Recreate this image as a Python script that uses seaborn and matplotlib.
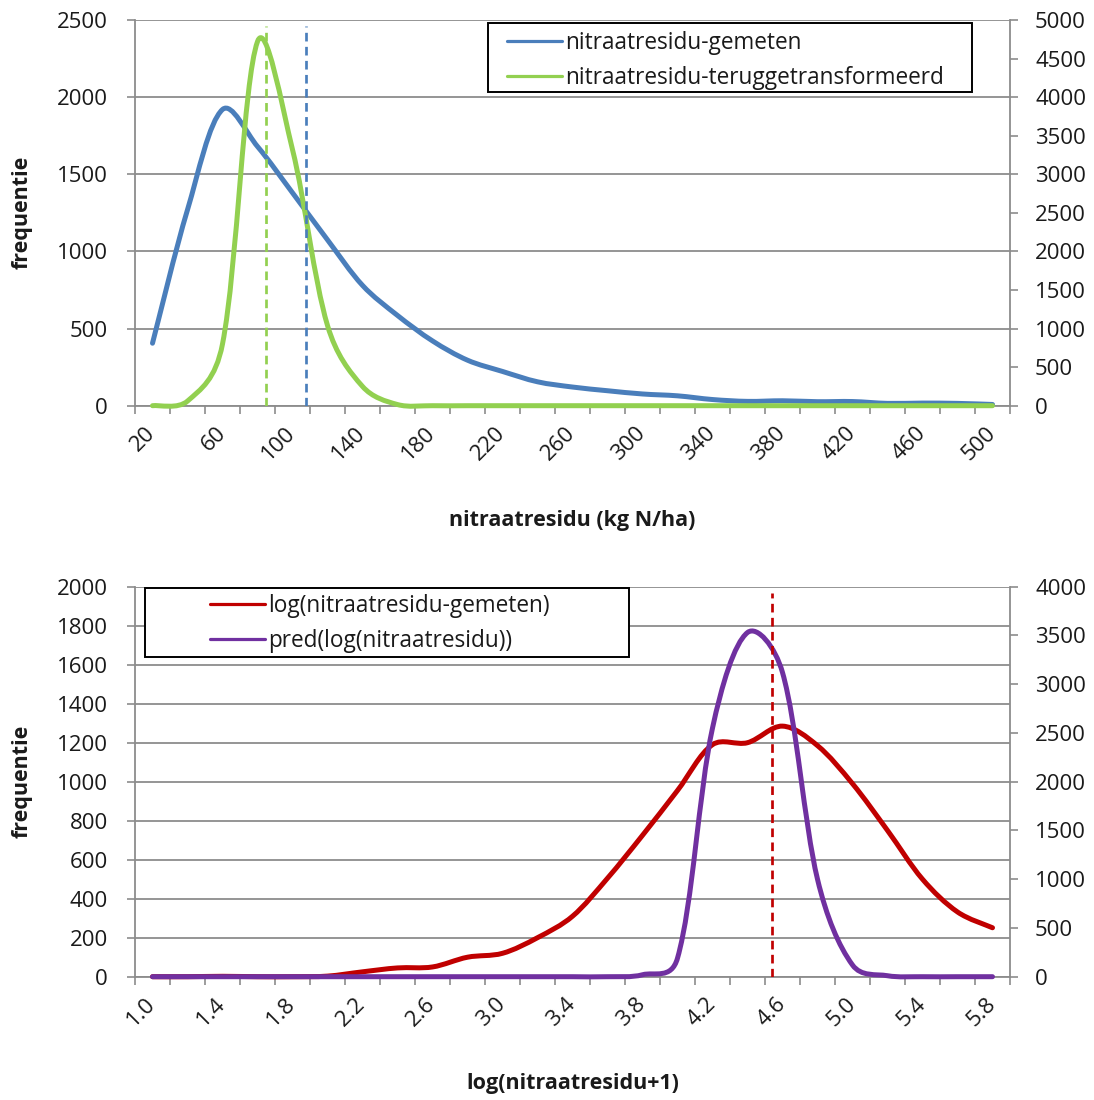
import numpy as np
import matplotlib
matplotlib.use("Agg")
import matplotlib.pyplot as plt
import seaborn as sns
from matplotlib.path import Path
from matplotlib.patches import PathPatch, Rectangle
from matplotlib.lines import Line2D
from matplotlib.ticker import FixedLocator, FixedFormatter

# ---------------- data ----------------
# upper panel: nitrate residue classes (kg N/ha)
residu_klassen = [20, 40, 60, 80, 100, 120, 140, 160, 180, 200, 220, 240, 260,
                  280, 300, 320, 340, 360, 380, 400, 420, 440, 460, 480, 500]
freq_gemeten = [405, 1270, 1920, 1680, 1380, 1075, 780, 585, 420, 295, 222, 155,
                121, 97, 76, 64, 40, 28, 32, 26, 27, 15, 17, 15, 8]
freq_teruggetransformeerd = [0, 60, 800, 4720, 3320, 1040, 250, 15, 0, 0, 0, 0, 0,
                             0, 0, 0, 0, 0, 0, 0, 0, 0, 0, 0, 0]
gem_teruggetransformeerd = 84.9
gem_gemeten = 107.7

# lower panel: log(nitrate residue + 1) classes
log_klassen = [1.0, 1.2, 1.4, 1.6, 1.8, 2.0, 2.2, 2.4, 2.6, 2.8, 3.0, 3.2, 3.4,
               3.6, 3.8, 4.0, 4.2, 4.4, 4.6, 4.8, 5.0, 5.2, 5.4, 5.6, 5.8]
freq_log_gemeten = [0, 0, 2, 0, 0, 3, 25, 45, 50, 100, 120, 200, 310,
                    505, 725, 955, 1190, 1200, 1285, 1185, 990, 750, 500, 332, 251]
freq_log_pred = [0, 0, 0, 0, 0, 0, 0, 0, 0, 0, 0, 0, 0,
                 0, 20, 190, 2550, 3530, 3120, 1000, 120, 10, 0, 0, 0]
gem_log = 4.538

labels_boven = ["nitraatresidu-gemeten", "nitraatresidu-teruggetransformeerd"]
labels_onder = ["log(nitraatresidu-gemeten)", "pred(log(nitraatresidu))"]

# ---------------- style ----------------
sns.set_theme(style="white")
plt.rcParams["font.family"] = ["Open Sans", "DejaVu Sans"]

BLUE = "#4A7EBB"
GREEN = "#92D050"
RED = "#C00000"
PURPLE = "#7030A0"
GRID = "#8C8C8C"
TXT = "#1A1A1A"
TICK_FS = 16
LEG_FS = 16.3
LAB_FS = 15.5
PX = 0.72  # points per pixel at 100 dpi

fig = plt.figure(figsize=(10.94, 11.0), dpi=100)
fig.patch.set_facecolor("white")
W, H = 1094.0, 1100.0
ax_top = fig.add_axes([135 / W, 1 - 405.7 / H, 875 / W, 385.7 / H])
ax_bot = fig.add_axes([135 / W, 1 - 976.7 / H, 875 / W, 390 / H])


def smooth_curve(ax, x, y, color, lw, zorder):
    """Smoothed polyline: cubic Bezier through every point, with tangents
    weighted by the neighbouring segment lengths in screen space."""
    pts = ax.transData.transform(np.column_stack([x, y]))
    n = len(pts)
    seg = np.linalg.norm(np.diff(pts, axis=0), axis=1)
    out_r = np.zeros_like(pts)
    out_l = np.zeros_like(pts)
    for i in range(n):
        if i == 0:
            out_r[i] = (pts[1] - pts[0]) / 5
        elif i == n - 1:
            out_l[i] = (pts[-1] - pts[-2]) / 5
        else:
            d = pts[i + 1] - pts[i - 1]
            ll, lr = seg[i - 1], seg[i]
            s = ll + lr if (ll + lr) > 0 else 1.0
            out_r[i] = d / 6 * np.sqrt(2 * lr / s)
            out_l[i] = d / 6 * np.sqrt(2 * ll / s)
    verts = [pts[0]]
    codes = [Path.MOVETO]
    for i in range(n - 1):
        verts += [pts[i] + out_r[i], pts[i + 1] - out_l[i + 1], pts[i + 1]]
        codes += [Path.CURVE4] * 3
    data_verts = ax.transData.inverted().transform(np.array(verts))
    patch = PathPatch(Path(data_verts, codes), facecolor="none", edgecolor=color,
                      lw=lw, transform=ax.transData, zorder=zorder,
                      capstyle="round", joinstyle="round", clip_on=False)
    ax.add_patch(patch)


def setup_panel(ax, cats, step, ylim_l, ystep_l, ylim_r, ystep_r, fmt):
    ax.set_facecolor("white")
    ax.set_xlim(cats[0] - step / 2, cats[-1] + step / 2)
    ax.set_ylim(*ylim_l)
    ax2 = ax.twinx()
    ax2.set_ylim(*ylim_r)
    ax2.patch.set_visible(False)

    # category labels every second class, tick marks between classes
    ax.xaxis.set_major_locator(FixedLocator(cats[::2]))
    ax.xaxis.set_major_formatter(FixedFormatter([fmt(c) for c in cats[::2]]))
    bounds = [c - step / 2 for c in cats] + [cats[-1] + step / 2]
    ax.xaxis.set_minor_locator(FixedLocator(bounds))
    ax.tick_params(axis="x", which="major", length=0, pad=24 * PX,
                   labelsize=TICK_FS, labelcolor=TXT)
    ax.tick_params(axis="x", which="minor", length=8 * PX, width=1.2,
                   color=GRID, direction="out", bottom=True)
    for lab in ax.get_xticklabels():
        lab.set_rotation(45)
        lab.set_ha("right")
        lab.set_va("center")
        lab.set_rotation_mode("anchor")

    ax.set_yticks(np.arange(ylim_l[0], ylim_l[1] + 1, ystep_l))
    ax.tick_params(axis="y", which="major", length=8 * PX, width=1.2, color=GRID,
                   direction="out", left=True, pad=19 * PX,
                   labelsize=TICK_FS, labelcolor=TXT)
    ax2.set_yticks(np.arange(ylim_r[0], ylim_r[1] + 1, ystep_r))
    ax2.tick_params(axis="y", which="major", length=8 * PX, width=1.2, color=GRID,
                    direction="out", right=True, pad=17 * PX,
                    labelsize=TICK_FS, labelcolor=TXT)
    ax2.grid(False)

    ax.grid(True, axis="y", color=GRID, lw=1.3, zorder=0)
    ax.grid(False, axis="x")
    ax.set_axisbelow(True)
    for name, sp in ax.spines.items():
        sp.set_visible(name in ("left", "bottom"))
        sp.set_color(GRID)
        sp.set_linewidth(1.3)
    for name, sp in ax2.spines.items():
        sp.set_visible(name == "right")
        sp.set_color(GRID)
        sp.set_linewidth(1.3)
    return ax2


def legend_box(ax, handles, labels, x_box, y_box, w_box, h_box, x_txt, y_txt):
    ax.add_patch(Rectangle((x_box, y_box), w_box, h_box, transform=ax.transAxes,
                           facecolor="white", edgecolor="black", lw=1.4,
                           zorder=20, clip_on=False))
    leg = ax.legend(handles, labels, loc="upper left",
                    bbox_to_anchor=(x_txt, y_txt), frameon=False,
                    fontsize=LEG_FS, handlelength=2.45, handletextpad=0.1,
                    borderpad=0, borderaxespad=0, labelspacing=0.5)
    leg.set_zorder(21)
    for t in leg.get_texts():
        t.set_color(TXT)
    return leg


# ---------------- upper panel ----------------
ax_top2 = setup_panel(ax_top, residu_klassen, 20, (0, 2500), 500, (0, 5000), 500,
                      lambda v: f"{v:d}")
smooth_curve(ax_top, residu_klassen, freq_gemeten, BLUE, 5 * PX, 5)
smooth_curve(ax_top2, residu_klassen, freq_teruggetransformeerd, GREEN, 5 * PX, 6)
ax_top2.axvline(gem_teruggetransformeerd, ymin=0, ymax=0.984, color=GREEN,
                lw=2.7 * PX, ls=(0, (3.2, 2.0)), zorder=7)
ax_top2.axvline(gem_gemeten, ymin=0, ymax=0.984, color=BLUE,
                lw=2.7 * PX, ls=(0, (3.2, 2.0)), zorder=7)

ax_top.set_xlabel("nitraatresidu (kg N/ha)", fontsize=LAB_FS, fontweight="bold",
                  color=TXT)
ax_top.xaxis.set_label_coords(0.5, (405.7 - 520) / 385.7)
ax_top.xaxis.label.set_va("center")
ax_top.set_ylabel("frequentie", fontsize=LAB_FS, fontweight="bold", color=TXT)
ax_top.yaxis.set_label_coords((22 - 135) / 875, 0.5)
ax_top.yaxis.label.set_va("center")

h_top = [Line2D([], [], color=BLUE, lw=3.2 * PX), Line2D([], [], color=GREEN, lw=3.2 * PX)]
legend_box(ax_top2, h_top, labels_boven,
           (488 - 135) / 875, (405.7 - 92) / 385.7, 484 / 875, 69 / 385.7,
           (507 - 135) / 875, (405.7 - 31) / 385.7)

# ---------------- lower panel ----------------
ax_bot2 = setup_panel(ax_bot, log_klassen, 0.2, (0, 2000), 200, (0, 4000), 500,
                      lambda v: f"{v:.1f}")
smooth_curve(ax_bot, log_klassen, freq_log_gemeten, RED, 5 * PX, 5)
smooth_curve(ax_bot2, log_klassen, freq_log_pred, PURPLE, 5 * PX, 6)
ax_bot2.axvline(gem_log, ymin=0, ymax=0.983, color=RED,
                lw=2.7 * PX, ls=(0, (3.2, 2.0)), zorder=7)

ax_bot.set_xlabel("log(nitraatresidu+1)", fontsize=LAB_FS, fontweight="bold",
                  color=TXT)
ax_bot.xaxis.set_label_coords(0.5, (976.7 - 1083) / 390)
ax_bot.xaxis.label.set_va("center")
ax_bot.set_ylabel("frequentie", fontsize=LAB_FS, fontweight="bold", color=TXT)
ax_bot.yaxis.set_label_coords((22 - 135) / 875, 0.5)
ax_bot.yaxis.label.set_va("center")

h_bot = [Line2D([], [], color=RED, lw=3.2 * PX), Line2D([], [], color=PURPLE, lw=3.2 * PX)]
legend_box(ax_bot2, h_bot, labels_onder,
           10 / 875, (976.7 - 657) / 390, 484 / 875, 69 / 390,
           (210 - 135) / 875, (976.7 - 594) / 390)

fig.savefig("out.png", dpi=100, facecolor="white")
